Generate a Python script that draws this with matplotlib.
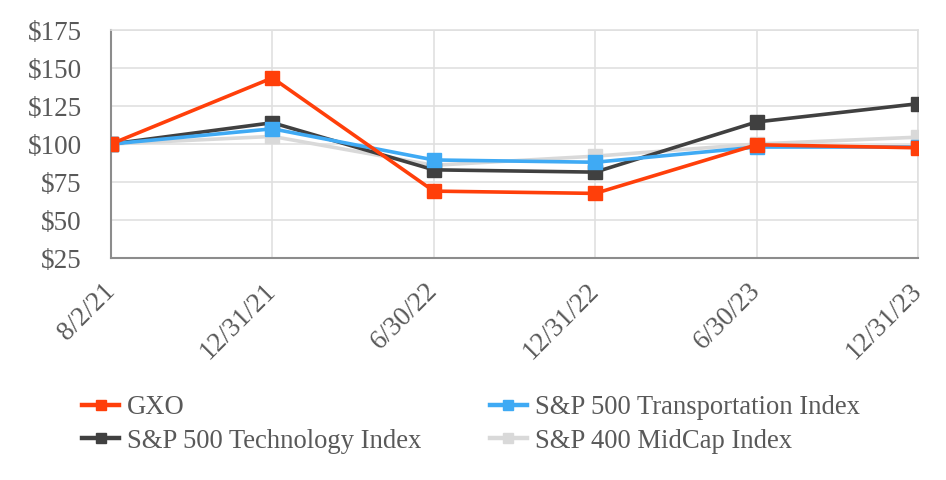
import matplotlib
matplotlib.use("Agg")
import matplotlib.pyplot as plt

# Data
dates = ["8/2/21", "12/31/21", "6/30/22", "12/31/22", "6/30/23", "12/31/23"]
gxo = [100, 143.5, 69, 67.5, 99.5, 97.5]
tech = [100, 114, 83, 81.5, 114.5, 126.5]
transport = [100, 110, 89.5, 88, 98, 98]
midcap = [100, 105, 86, 92, 100, 104.5]
yticks = [25, 50, 75, 100, 125, 150, 175]

plt.rcParams['font.family'] = ['Liberation Serif', 'DejaVu Serif']
text_color = '#595959'
fs = 19.5

fig = plt.figure(figsize=(9.46, 4.8), dpi=100)
ax = fig.add_axes([111 / 946, 1 - 258 / 480, (918 - 111) / 946, (258 - 30) / 480])

x = list(range(len(dates)))
lw = 2.6
ms = 10
l_mid, = ax.plot(x, midcap, color='#D9D9D9', lw=lw, marker='s', ms=ms, zorder=3,
                 label='S&P 400 MidCap Index')
l_tech, = ax.plot(x, tech, color='#404040', lw=lw, marker='s', ms=ms, zorder=4,
                  label='S&P 500 Technology Index')
l_tr, = ax.plot(x, transport, color='#3FAAF4', lw=lw, marker='s', ms=ms, zorder=4,
                label='S&P 500 Transportation Index')
l_gxo, = ax.plot(x, gxo, color='#FF3F0A', lw=lw, marker='s', ms=ms, zorder=5,
                 label='GXO')

ax.set_xlim(0, len(dates) - 1)
ax.set_ylim(25, 175)
ax.set_yticks(yticks)
ax.set_yticklabels(['$%d' % v for v in yticks])
ax.set_xticks(x)
ax.set_xticklabels(dates, rotation=45, ha='right', va='center', rotation_mode='anchor')

ax.grid(True, color='#E0E0E0', lw=1.2, zorder=0)
ax.tick_params(length=0, labelsize=fs, labelcolor=text_color)
ax.tick_params(axis='y', pad=21)
ax.tick_params(axis='x', pad=21)
for side in ['top', 'right']:
    ax.spines[side].set_color('#E0E0E0')
    ax.spines[side].set_linewidth(1.2)
for side in ['left', 'bottom']:
    ax.spines[side].set_color('#8C8C8C')
    ax.spines[side].set_linewidth(1.5)

leg = fig.legend(handles=[l_gxo, l_tech, l_tr, l_mid], ncol=2, frameon=False,
                 loc='upper left', bbox_to_anchor=(82 / 946, 1 - 395 / 480),
                 borderpad=0, borderaxespad=0, fontsize=19.2, handlelength=1.4,
                 handletextpad=0.3, columnspacing=2.55, labelspacing=0.32,
                 markerscale=0.65)
for t in leg.get_texts():
    t.set_color(text_color)
for h in leg.legend_handles:
    h.set_linewidth(3.2)

fig.savefig('out.png', dpi=100)
